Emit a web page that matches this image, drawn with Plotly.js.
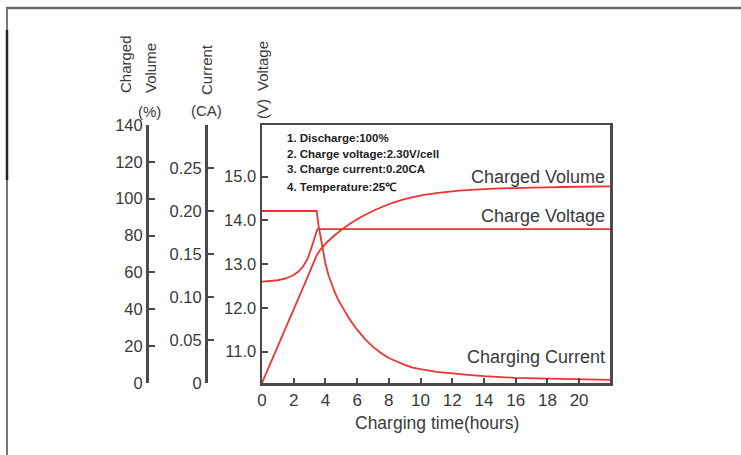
<!DOCTYPE html>
<html><head><meta charset="utf-8">
<script src="https://cdn.plot.ly/plotly-3.0.1.min.js"></script>
<style>html,body{margin:0;padding:0;background:#fff}#c{width:741px;height:455px}</style>
</head><body><div id="c"></div>
<script>
// Charged volume (%)
var volTime = [0, 1, 2, 3, 3.5, 4, 4.5, 5, 6, 7, 8, 9, 10, 11, 12, 14, 16, 18, 20, 22];
var volValue = [0, 20, 40, 60, 70, 75.5, 79.5, 83, 88.8, 93.3, 97, 99.8, 101.7, 103, 104, 105.2, 105.8, 106.2, 106.5, 106.7];
// Charge voltage (V)
var vTime = [0, 0.5, 1, 1.5, 2, 2.3, 2.6, 2.9, 3.1, 3.25, 3.4, 3.5, 22];
var vValue = [12.6, 12.61, 12.63, 12.67, 12.75, 12.83, 12.95, 13.14, 13.33, 13.52, 13.7, 13.8, 13.8];
// Charging current (CA)
var iTime = [0, 3.45, 3.55, 3.7, 3.85, 4.0, 4.2, 4.4, 4.6, 4.8, 5.0, 5.3, 5.6, 6.0, 6.5, 7.0, 7.5, 8, 8.5, 9, 9.5, 10, 11, 12, 13, 14, 16, 18, 20, 22];
var iValue = [0.20, 0.20, 0.185, 0.168, 0.152, 0.139, 0.125, 0.114, 0.105, 0.097, 0.090, 0.081, 0.072, 0.062, 0.051, 0.042, 0.035, 0.029, 0.025, 0.021, 0.018, 0.016, 0.013, 0.011, 0.0095, 0.008, 0.006, 0.005, 0.004, 0.0035];

var xTicks = [0, 2, 4, 6, 8, 10, 12, 14, 16, 18, 20];
var volTicks = [0, 20, 40, 60, 80, 100, 120, 140];
var curTicks = [0, 0.05, 0.10, 0.15, 0.20, 0.25];
var curTickText = ['0', '0.05', '0.10', '0.15', '0.20', '0.25'];
var voltTicks = [11, 12, 13, 14, 15];
var voltTickText = ['11.0', '12.0', '13.0', '14.0', '15.0'];
var notes = ['1. Discharge:100%', '2. Charge voltage:2.30V/cell', '3. Charge current:0.20CA', '4. Temperature:25\u2103'];

var W = 741, H = 455;
function px(x){return x/W;}
function py(y){return 1 - y/H;}
var red = 'rgb(236,52,52)';
var gray = '#4a4a4a';
var txt = '#3a3a3a';
var FF = 'Liberation Sans, Arial, sans-serif';

var traces = [
  {x: volTime, y: volValue, yaxis: 'y2', mode: 'lines', line: {color: red, width: 1.8, shape: 'spline', smoothing: 0.6}, hoverinfo: 'skip'},
  {x: vTime, y: vValue, yaxis: 'y', mode: 'lines', line: {color: red, width: 1.8}, hoverinfo: 'skip'},
  {x: iTime, y: iValue, yaxis: 'y3', mode: 'lines', line: {color: red, width: 1.8}, hoverinfo: 'skip'}
];

var yDom = [72/H, 330/H];
var layout = {
  width: W, height: H,
  margin: {l: 0, r: 0, t: 0, b: 0},
  paper_bgcolor: '#fff', plot_bgcolor: '#fff',
  showlegend: false,
  font: {family: FF, color: txt},
  xaxis: {domain: [262/W, 610/W], range: [0, 21.95], tickvals: xTicks, ticks: 'inside', ticklen: 5, tickwidth: 2, tickcolor: gray,
    showline: true, linecolor: gray, linewidth: 2.5, mirror: true, showgrid: false, zeroline: false,
    tickfont: {size: 17, color: txt, family: FF}},
  yaxis: {domain: yDom, range: [10.28, 16.18], tickvals: voltTicks, ticktext: voltTickText, ticks: 'inside', ticklen: 6, tickwidth: 2, tickcolor: gray,
    showline: true, linecolor: gray, linewidth: 2.5, mirror: true, showgrid: false, zeroline: false,
    tickfont: {size: 16.5, color: txt, family: FF}},
  yaxis2: {domain: yDom, overlaying: 'y', anchor: 'free', position: 147/W, side: 'left', range: [0, 140], tickvals: volTicks,
    ticks: 'inside', ticklen: 6, tickwidth: 2, tickcolor: gray, showline: true, linecolor: gray, linewidth: 3, showgrid: false, zeroline: false,
    tickfont: {size: 16.5, color: txt, family: FF}},
  yaxis3: {domain: yDom, overlaying: 'y', anchor: 'free', position: 206/W, side: 'left', range: [0, 0.30], tickvals: curTicks, ticktext: curTickText,
    ticks: 'inside', ticklen: 6, tickwidth: 2, tickcolor: gray, showline: true, linecolor: gray, linewidth: 3, showgrid: false, zeroline: false,
    tickfont: {size: 16.5, color: txt, family: FF}},
  shapes: [
    {type: 'line', xref: 'paper', yref: 'paper', x0: px(6), x1: px(741), y0: py(8), y1: py(8), line: {color: '#666', width: 2.5}},
    {type: 'line', xref: 'paper', yref: 'paper', x0: px(7), x1: px(7), y0: py(8), y1: py(455), line: {color: '#777', width: 2}},
    {type: 'line', xref: 'paper', yref: 'paper', x0: px(7), x1: px(7), y0: py(30), y1: py(180), line: {color: '#222', width: 2.5}}
  ],
  annotations: []
};

var A = layout.annotations;
function ann(text, x, y, opts){
  var a = {text: text, x: px(x), y: py(y), xref: 'paper', yref: 'paper', showarrow: false, xanchor: 'center', yanchor: 'middle',
    font: {size: 15, color: txt, family: FF}};
  for (var k in opts) a[k] = opts[k];
  A.push(a);
}
// axis titles
ann('Charged', 126, 64, {textangle: -90});
ann('Volume', 150, 68, {textangle: -90});
ann('(%)', 149, 111, {});
ann('Current', 206, 70, {textangle: -90});
ann('(CA)', 206, 110, {});
ann('Voltage', 262, 66, {textangle: -90});
ann('(V)', 262, 109, {textangle: -90});
// notes
var noteY = [138, 154, 169, 187];
for (var i = 0; i < notes.length; i++) {
  ann('<b>' + notes[i] + '</b>', 285, noteY[i], {xanchor: 'left', font: {size: 11.5, color: '#222', family: FF}});
}
// curve labels
ann('Charged Volume', 607, 177, {xanchor: 'right', font: {size: 18, color: txt, family: FF}});
ann('Charge Voltage', 607, 216, {xanchor: 'right', font: {size: 18, color: txt, family: FF}});
ann('Charging Current', 607, 357, {xanchor: 'right', font: {size: 18, color: txt, family: FF}});
// x title
ann('Charging time(hours)', 437, 423, {font: {size: 17.5, color: txt, family: FF}});

Plotly.newPlot('c', traces, layout, {staticPlot: true, displayModeBar: false});
</script></body></html>
